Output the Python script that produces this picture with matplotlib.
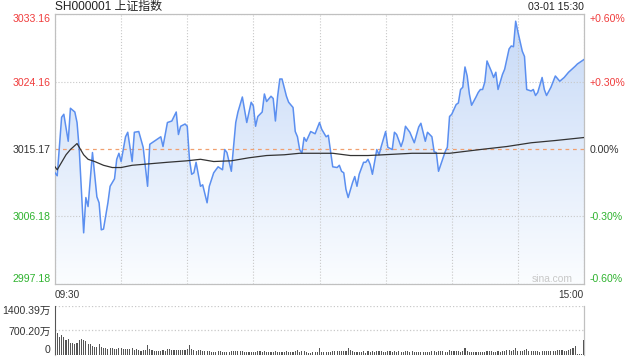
import numpy as np
import matplotlib
matplotlib.use('Agg')
import matplotlib.pyplot as plt
from matplotlib.colors import LinearSegmentedColormap

plt.rcParams['font.family'] = ['Liberation Sans', 'Noto Sans CJK SC', 'DejaVu Sans']

title = 'SH000001 上证指数'
stamp = '03-01 15:30'
prev_close = 3015.17
price_ticks = [2997.18, 3006.18, 3015.17, 3024.16, 3033.16]
price_labels = ['2997.18', '3006.18', '3015.17', '3024.16', '3033.16']
pct_labels = ['-0.60%', '-0.30%', '0.00%', '+0.30%', '+0.60%']
vol_ticks = [0, 700.20, 1400.39]
vol_labels = ['0', '700.20万', '1400.39万']
time_labels = ['09:30', '', '', '', '', '', '', '', '15:00']

# minute index from 09:30 (0..240, lunch break removed)
minutes = [0, 1, 3, 4, 6, 7, 9, 10, 11, 13, 14, 15, 17, 19, 20, 21, 22, 24, 25, 27,
           28, 29, 30, 32, 33, 35, 36, 38, 40, 42, 43, 46, 48, 49, 51, 53, 55, 56, 57, 59,
           60, 61, 62, 63, 64, 66, 67, 69, 70, 72, 74, 76, 77, 78, 80, 82, 83, 85, 87, 89,
           90, 91, 92, 94, 95, 96, 98, 99, 100, 101, 102, 103, 105, 106, 108, 109, 110, 111, 112, 113,
           114, 116, 118, 120, 121, 123, 124, 126, 128, 129, 130, 131, 132, 133, 135, 136, 137, 138, 140, 141,
           142, 143, 144, 146, 147, 148, 150, 151, 153, 154, 155, 157, 158, 159, 161, 162, 163, 165, 166, 168,
           169, 171, 172, 173, 174, 177, 178, 179, 180, 182, 183, 184, 185, 186, 187, 188, 189, 191, 192, 193,
           194, 195, 196, 198, 199, 200, 201, 203, 204, 206, 207, 208, 209, 210, 212, 213, 214, 216, 217, 218,
           219, 221, 222, 223, 225, 227, 229, 231, 233, 236, 237, 239, 240]
price = [3012.0, 3011.6, 3019.4, 3019.8, 3016.2, 3020.6, 3020.1, 3018.7, 3015.1, 3004.0,
         3008.7, 3007.5, 3014.7, 3008.8, 3008.0, 3004.4, 3004.5, 3008.0, 3010.2, 3011.2,
         3013.8, 3014.6, 3013.5, 3016.8, 3017.4, 3013.5, 3017.4, 3017.5, 3015.4, 3010.2,
         3015.8, 3016.4, 3016.8, 3015.5, 3018.7, 3018.9, 3020.1, 3017.1, 3018.2, 3018.5,
         3018.2, 3013.8, 3011.8, 3012.0, 3013.4, 3010.2, 3010.4, 3008.0, 3010.2, 3012.0,
         3012.8, 3012.4, 3015.1, 3014.7, 3012.2, 3018.7, 3020.1, 3022.1, 3018.7, 3021.4,
         3020.9, 3018.2, 3019.5, 3020.1, 3022.5, 3021.5, 3022.2, 3021.9, 3018.9, 3022.2,
         3024.5, 3024.5, 3022.2, 3021.4, 3020.7, 3017.5, 3016.8, 3015.1, 3014.6, 3016.7,
         3016.2, 3017.5, 3017.2, 3018.7, 3017.8, 3016.8, 3017.0, 3012.8, 3012.7, 3013.0,
         3012.2, 3012.0, 3009.8, 3008.7, 3010.7, 3011.5, 3010.2, 3011.8, 3013.4, 3013.4,
         3013.8, 3013.1, 3011.8, 3015.1, 3014.4, 3015.5, 3017.5, 3015.4, 3015.1, 3017.4,
         3017.1, 3015.5, 3016.4, 3018.2, 3017.4, 3016.7, 3016.0, 3018.1, 3018.6, 3016.2,
         3017.4, 3016.8, 3014.8, 3014.7, 3012.2, 3014.8, 3015.4, 3019.5, 3019.8, 3021.1,
         3021.3, 3023.1, 3023.4, 3026.1, 3024.9, 3022.5, 3021.0, 3022.1, 3022.7, 3023.1,
         3023.1, 3024.1, 3026.9, 3025.5, 3024.7, 3025.4, 3023.1, 3025.1, 3025.8, 3028.5,
         3028.9, 3028.8, 3032.2, 3030.8, 3028.2, 3027.5, 3023.1, 3022.9, 3023.1, 3022.3,
         3022.7, 3024.7, 3023.1, 3022.3, 3023.4, 3024.9, 3024.2, 3024.7, 3025.4, 3026.2,
         3026.5, 3026.9, 3027.1]

avg_minutes = [0, 1, 5, 7, 10, 13, 15, 18, 22, 26, 30, 35, 43, 51, 60, 66, 72, 80, 88, 96,
               104, 111, 119, 126, 134, 142, 149, 162, 179, 193, 205, 216, 227, 240]
avg_price = [3012.8, 3012.4, 3014.4, 3015.1, 3015.9, 3014.4, 3013.8, 3013.5, 3013.0, 3012.7,
             3012.7, 3013.0, 3013.2, 3013.4, 3013.6, 3013.8, 3013.5, 3013.6, 3014.0, 3014.3,
             3014.4, 3014.6, 3014.6, 3014.6, 3014.3, 3014.3, 3014.4, 3014.6, 3014.6, 3015.1,
             3015.5, 3016.0, 3016.3, 3016.7]

# volume per minute, in 万
volume = [1400, 643, 501, 577, 501, 435, 463, 350, 350, 322,
          350, 435, 463, 435, 407, 322, 322, 265, 237, 237,
          322, 237, 208, 208, 180, 208, 208, 180, 180, 208,
          208, 180, 180, 180, 180, 208, 151, 180, 151, 123,
          151, 151, 293, 180, 151, 104, 123, 123, 123, 151,
          104, 180, 180, 151, 151, 151, 151, 151, 151, 151,
          180, 293, 180, 151, 123, 151, 151, 123, 123, 123,
          123, 95, 78, 78, 104, 104, 78, 78, 95, 78,
          123, 104, 123, 104, 104, 104, 95, 95, 78, 78,
          78, 95, 104, 104, 78, 123, 78, 78, 78, 78,
          104, 78, 78, 78, 78, 104, 78, 78, 78, 123,
          151, 78, 104, 104, 78, 47, 47, 78, 78, 78,
          208, 78, 78, 78, 78, 78, 104, 104, 104, 104,
          104, 104, 104, 208, 151, 123, 78, 78, 78, 78,
          104, 47, 104, 78, 104, 78, 104, 104, 104, 78,
          78, 123, 104, 78, 104, 78, 104, 78, 78, 104,
          104, 78, 104, 78, 78, 78, 78, 78, 78, 78,
          78, 104, 104, 78, 104, 104, 104, 78, 78, 151,
          104, 123, 104, 104, 78, 104, 208, 123, 78, 78,
          78, 78, 78, 78, 78, 78, 104, 104, 104, 78,
          78, 104, 78, 104, 104, 151, 151, 123, 151, 208,
          104, 123, 104, 151, 180, 104, 104, 104, 104, 104,
          78, 104, 104, 104, 104, 123, 123, 123, 151, 151,
          151, 123, 123, 151, 180, 208, 265, 28, 19, 19, 435]

RED = '#f03c3c'
GREEN = '#2fb32f'
DARK = '#333333'
GRID = '#c8c8c8'

fig = plt.figure(figsize=(6.4, 3.6), dpi=100)
W, H = 640, 360


def box(l, t, r, b):
    return [l / W, 1 - b / H, (r - l) / W, (b - t) / H]


ax = fig.add_axes(box(55, 14, 584, 284))
vax = fig.add_axes(box(55, 306, 584, 355))

# price area with vertical gradient
fill = ax.fill_between(minutes, price, price_ticks[0], color='none', lw=0)
cmap = LinearSegmentedColormap.from_list('blu', ['#fbfdff', '#c6d9f7'])
grad = ax.imshow(np.linspace(0, 1, 256).reshape(-1, 1), cmap=cmap, origin='lower', aspect='auto',
                 extent=[0, 240, price_ticks[0], price_ticks[-1]], zorder=1)
grad.set_clip_path(fill.get_paths()[0], transform=ax.transData)

ax.plot(minutes, price, color='#5b8ff0', lw=1.1, zorder=4)
ax.plot(avg_minutes, avg_price, color='#333333', lw=0.9, zorder=4)

ax.set_xlim(0, 240)
ax.set_ylim(price_ticks[0], price_ticks[-1])
ax.set_xticks(range(0, 241, 30), time_labels)
ax.set_yticks(price_ticks, price_labels)
ax.grid(True, ls=':', color=GRID, lw=0.8)
ax.get_ygridlines()[2].set(color='#f0a070', ls=(0, (3, 3)), lw=0.9)
ax.tick_params(length=0, labelsize=7.6)
ax.tick_params(axis='y', pad=3)
ax.tick_params(axis='x', pad=4, labelsize=7.2, labelcolor=DARK)
xl = ax.get_xticklabels()
xl[0].set_ha('left')
xl[-1].set_ha('right')
for s in ax.spines.values():
    s.set_color('#c0c0c0')
    s.set_linewidth(0.9)

rax = ax.twinx()
rax.set_ylim(ax.get_ylim())
rax.set_yticks(price_ticks, pct_labels)
rax.tick_params(length=0, labelsize=7.6, pad=4)
for s in rax.spines.values():
    s.set_visible(False)

for axis in (ax, rax):
    lbls = axis.get_yticklabels()
    for v, lbl in zip(price_ticks, lbls):
        if v > prev_close + 0.01:
            lbl.set_color(RED)
        elif v < prev_close - 0.01:
            lbl.set_color(GREEN)
        else:
            lbl.set_color(DARK)
    lbls[0].set_va('bottom')
    lbls[-1].set_va('top')

ax.text(0.979, 0.018, 'sina.com', transform=ax.transAxes, ha='right', va='center',
        color='#c8c8c8', fontsize=7.4)

fig.text(55 / W, 1 - 7 / H, title, ha='left', va='center', fontsize=8.6, color='#222222')
fig.text(584 / W, 1 - 7 / H, stamp, ha='right', va='center', fontsize=7.6, color='#222222')

# volume panel
vax.bar(range(len(volume)), volume, width=0.5, color='#555555', lw=0, zorder=3, antialiased=False)
vax.set_xlim(0, 240)
vax.set_ylim(0, vol_ticks[-1])
vax.set_yticks(vol_ticks, vol_labels)
vax.set_xticks([])
vax.grid(axis='y', ls=':', color=GRID, lw=0.9)
vax.tick_params(length=0, labelsize=7.6, pad=3, labelcolor=DARK)
vl = vax.get_yticklabels()
vl[0].set_va('bottom')
vl[-1].set_va('top')
vax.spines['top'].set_visible(False)
vax.spines['bottom'].set_visible(False)
for side in ('left', 'right'):
    vax.spines[side].set_color('#c0c0c0')
    vax.spines[side].set_linewidth(0.9)

fig.savefig('out.png', dpi=100)
